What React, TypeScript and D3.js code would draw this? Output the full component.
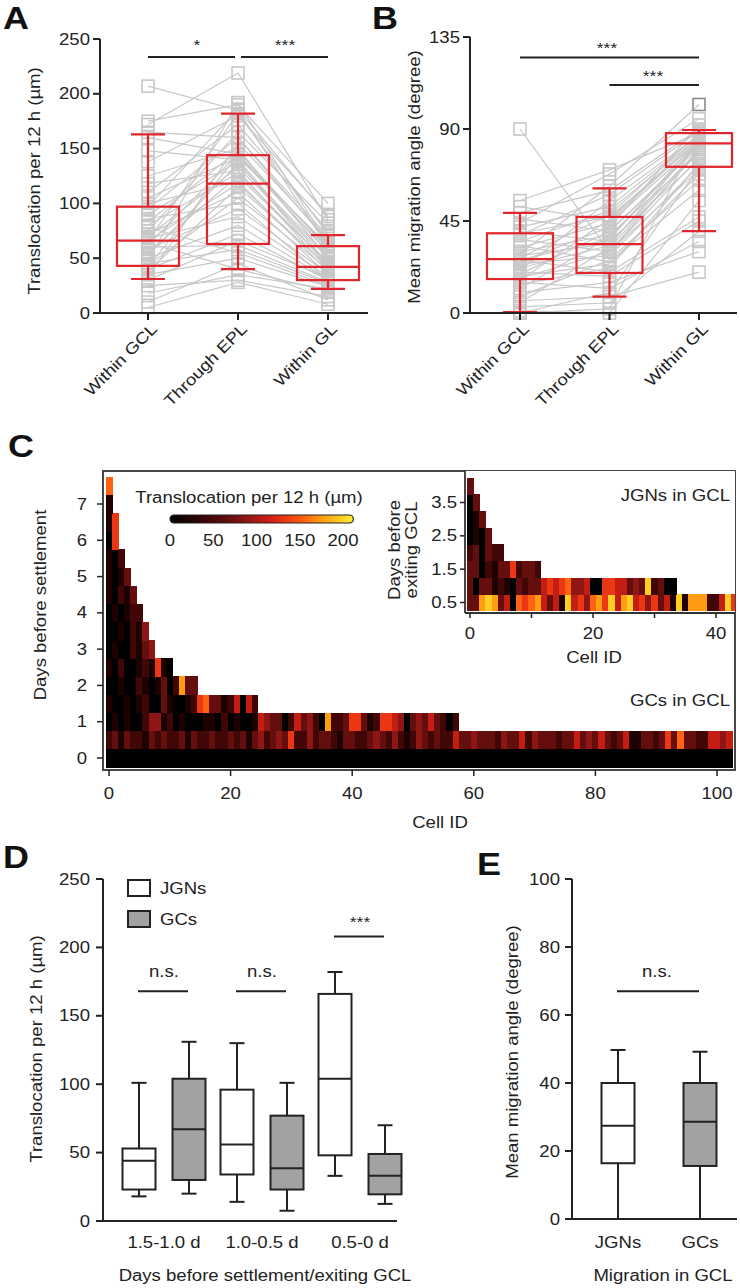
import React from "react";
import * as d3 from "d3";

const FONT = '"Liberation Sans", Arial, Helvetica, sans-serif';
const SX = 1.16;
const INK = "#222";
const RED = "#e0262c";
const PT = "#c8c8c8";
const BOXGRAY = "#a2a2a2";

// ---------------- Panel A ----------------
const stages = ["Within GCL", "Through EPL", "Within GL"];
const aTicks = [0, 50, 100, 150, 200, 250];
// [whisker low, Q1, median, Q3, whisker high]
const aBoxGCL = [31, 43, 66, 97, 163];
const aBoxEPL = [40, 63, 118, 144, 182];
const aBoxGL = [22, 30, 42, 61, 71];
const aGCL = [207,172,175,165,160,148,138,125,118,110,105,100,97,95,90,86,83,80,78,75,72,70,68,66,66,64,62,60,58,55,53,50,48,45,43,42,40,38,35,32,30,25,18,10,5];
const aEPL = [185,219,190,160,145,140,180,150,130,172,142,120,186,160,138,100,148,128,55,165,110,133,88,182,118,40,145,62,95,125,136,80,192,58,105,144,72,115,50,155,66,30,35,45,28];
const aGL = [60,85,100,70,55,45,90,50,40,75,62,38,88,65,42,30,58,45,25,82,35,50,33,72,42,20,60,28,36,46,52,31,63,27,40,56,30,43,24,68,32,15,22,12,8];

// ---------------- Panel B ----------------
const bTicks = [0, 45, 90, 135];
const bBoxGCL = [0.5, 16.6, 26.4, 39, 49];
const bBoxEPL = [8, 19.6, 33.7, 47, 61];
const bBoxGL = [40, 71.5, 83, 88, 89.5];
const bGCL = [90,55,52,49,46,44,42,40,39,38,36,35,33,32,30,29,28,27,26,26,25,24,22,21,20,19,18,17,16,15,14,12,10,8,6,5,3,1,0,0];
const bEPL = [30,70,45,60,40,68,52,35,47,58,30,50,25,44,38,62,34,48,20,36,42,28,33,55,18,40,24,30,46,12,22,37,15,26,8,32,5,0,10,2];
const bGL = [80,88,85,90,82,95,87,75,84,89,70,86,60,83,78,102,80,88,47,85,92,72,84,87,45,81,68,76,86,35,73,83,30,65,20,79,40,55,71,88];

// ---------------- Panel C (heat maps) ----------------
// one character per cell, level 0..9 ; translocation = level * 22 µm
const LEVEL_STEP = 22;
const gcDay0_0 = "0000000000" + "0000000000" + "0000000000" + "0000000000" + "0000000000" + "0000000000" + "0000000000" + "0000000000" + "0000000000" + "0000000000" + "000";
const gcDay0_5 = "23132" + "21323" + "22313" + "22322" + "32313" + "42343" + "62242" + "33213" + "32234" + "32421" + "24323" + "225" + "33433" + "32433" + "52433" + "32335" + "34353" + "23511" + "33236" + "37332" + "25545";
const gcDay1_0 = "01010" + "02441" + "20100" + "01102" + "01001" + "54330" + "25342" + "08223" + "66312" + "66540" + "34353" + "202";
const gcDay1_5 = "10010" + "12003" + "10012" + "67331" + "25052";
const gcDay2_0 = "00100" + "21013" + "02833";
const gcDay2_5 = "10200121610";
const gcDay3_0 = "01002134";
const gcDay3_5 = "0010214";
const gcDay4_0 = "010122";
const gcDay4_5 = "10213";
const gcDay5_0 = "1013";
const gcDay5_5 = "102";
const gcDay6_0 = "06";
const gcDay6_5 = "16";
const gcDay7_0 = "1";
const gcDay7_5 = "7";
const gcRows = [gcDay0_0, gcDay0_5, gcDay1_0, gcDay1_5, gcDay2_0, gcDay2_5, gcDay3_0, gcDay3_5, gcDay4_0, gcDay4_5, gcDay5_0, gcDay5_5, gcDay6_0, gcDay6_5, gcDay7_0, gcDay7_5];
const gcRowDays = [0, 0.5, 1, 1.5, 2, 2.5, 3, 3.5, 4, 4.5, 5, 5.5, 6, 6.5, 7, 7.5];

const jgnDay0_5 = "33898" + "35076" + "78535" + "19564" + "78695" + "89564" + "63519" + "18882" + "2596";
const jgnDay1_0 = "30331" + "21032" + "33565" + "67445" + "00665" + "53439" + "2300";
const jgnDay1_5 = "330213362332";
const jgnDay2_0 = "230322";
const jgnDay2_5 = "0103";
const jgnDay3_0 = "013";
const jgnDay3_5 = "03";
const jgnDay4_0 = "3";
const jgnRows = [jgnDay0_5, jgnDay1_0, jgnDay1_5, jgnDay2_0, jgnDay2_5, jgnDay3_0, jgnDay3_5, jgnDay4_0];
const jgnRowDays = [0.5, 1, 1.5, 2, 2.5, 3, 3.5, 4];

const cYTicks = [0, 1, 2, 3, 4, 5, 6, 7];
const cXTicks = [0, 20, 40, 60, 80, 100];
const insetYTicks = [0.5, 1.5, 2.5, 3.5];
const insetXTicks = [0, 10, 20, 30, 40];
const insetXLabels = [0, 20, 40];
const cbarTicks = [0, 50, 100, 150, 200];

// ---------------- Panel D ----------------
const dGroups = ["1.5-1.0 d", "1.0-0.5 d", "0.5-0 d"];
const dTicks = [0, 50, 100, 150, 200, 250];
const dJGN = [[18, 23, 44, 53, 101], [14, 34, 56, 96, 130], [33, 48, 104, 166, 182]];
const dGC = [[20, 30, 67, 104, 131], [7.5, 23, 38.5, 77, 101], [12.5, 19.5, 33, 49, 70]];
const dSig = [{ g: 0, v: 168, label: "n.s." }, { g: 1, v: 168, label: "n.s." }, { g: 2, v: 208, label: "***" }];

// ---------------- Panel E ----------------
const eCats = ["JGNs", "GCs"];
const eTicks = [0, 20, 40, 60, 80, 100];
const eBoxes = [[0, 16.4, 27.4, 40, 49.7], [0, 15.6, 28.6, 40, 49.2]];
const eSig = 67;

const heat = d3
  .scaleLinear<string>()
  .domain([0, 22, 50, 80, 115, 145, 175, 212])
  .range(["#000000", "#1e0202", "#4a0808", "#7a1414", "#d01e14", "#ff4a12", "#ff9a10", "#ffee30"])
  .clamp(true);

function Txt(p: any) {
  const { x, y, children, size = 16, anchor = "start", rot = 0, weight = 400, fill = INK, mid = false, sx = SX } = p;
  return (
    <text
      transform={`translate(${x},${y}) rotate(${rot}) scale(${sx},1)`}
      textAnchor={anchor}
      fontSize={size}
      fontWeight={weight}
      fontFamily={FONT}
      fill={fill}
      dy={mid ? "0.35em" : undefined}
    >
      {children}
    </text>
  );
}

function Box({ cx, w, s, y, stroke, fill = "none", capW, sw = 2 }: any) {
  const [lo, q1, md, q3, hi] = s;
  return (
    <g stroke={stroke} strokeWidth={sw} fill="none">
      <line x1={cx} x2={cx} y1={y(hi)} y2={y(q3)} />
      <line x1={cx} x2={cx} y1={y(q1)} y2={y(lo)} />
      <line x1={cx - capW / 2} x2={cx + capW / 2} y1={y(hi)} y2={y(hi)} />
      <line x1={cx - capW / 2} x2={cx + capW / 2} y1={y(lo)} y2={y(lo)} />
      <rect x={cx - w / 2} y={y(q3)} width={w} height={y(q1) - y(q3)} fill={fill} />
      <line x1={cx - w / 2} x2={cx + w / 2} y1={y(md)} y2={y(md)} />
    </g>
  );
}

function YAxis({ x, y, ticks, y0, y1, labelX }: any) {
  return (
    <g>
      <line x1={x} x2={x} y1={y0} y2={y1} stroke={INK} strokeWidth={2} />
      {ticks.map((t: number) => (
        <g key={t}>
          <line x1={x - 7} x2={x} y1={y(t)} y2={y(t)} stroke={INK} strokeWidth={2} />
          <Txt x={labelX} y={y(t)} anchor="end" mid>
            {t}
          </Txt>
        </g>
      ))}
    </g>
  );
}

function PairedPanel({ yScale, xScale, ticks, boxes, v1, v2, v3, axisX, axisEnd, boxW, darkMax }: any) {
  const xs = stages.map((s) => xScale(s) as number);
  const line = d3.line<[number, number]>();
  const vals = [v1, v2, v3];
  const pts: { x: number; v: number }[] = [];
  vals.forEach((arr: number[], k: number) => arr.forEach((v) => pts.push({ x: xs[k], v })));
  return (
    <g>
      <g stroke={PT} strokeWidth={1.2} fill="none">
        {v1.map((_: number, i: number) => (
          <path key={i} d={line([[xs[0], yScale(v1[i])], [xs[1], yScale(v2[i])], [xs[2], yScale(v3[i])]]) as string} />
        ))}
      </g>
      <g fill="none" strokeWidth={1.6}>
        {pts.map((p, i) => (
          <rect key={i} x={p.x - 6} y={yScale(p.v) - 6} width={12} height={12} stroke={darkMax && p.v === darkMax ? "#8a8a8a" : PT} />
        ))}
      </g>
      {boxes.map((b: number[], k: number) => (
        <Box key={k} cx={xs[k]} w={boxW} s={b} y={yScale} stroke={RED} capW={34} sw={2.2} />
      ))}
      <YAxis x={axisX} y={yScale} ticks={ticks} y0={yScale(ticks[ticks.length - 1])} y1={yScale(0)} labelX={axisX - 10} />
      <line x1={axisX} x2={axisEnd} y1={yScale(0)} y2={yScale(0)} stroke={INK} strokeWidth={2} />
      {xs.map((x, k) => (
        <g key={k}>
          <line x1={x} x2={x} y1={yScale(0)} y2={yScale(0) + 7} stroke={INK} strokeWidth={2} />
          <Txt x={x + 10} y={yScale(0) + 17} anchor="end" rot={-45}>
            {stages[k]}
          </Txt>
        </g>
      ))}
    </g>
  );
}

function HeatRows({ rows, days, x, y }: any) {
  const out: any[] = [];
  rows.forEach((row: string, r: number) => {
    const d = days[r];
    row.split("").forEach((ch, i) => {
      const x0 = x(i - 0.5);
      const x1 = x(i + 0.5);
      const y0 = y(d + 0.25);
      const y1 = y(d - 0.25);
      out.push(
        <rect key={r + "-" + i} x={x0} y={y0} width={x1 - x0 + 0.5} height={y1 - y0 + 0.5} fill={heat(+ch * LEVEL_STEP)} />
      );
    });
  });
  return <g shapeRendering="crispEdges">{out}</g>;
}

export default function App() {
  // A
  const aY = d3.scaleLinear().domain([0, 250]).range([313, 39]);
  const aX = d3.scalePoint<string>().domain(stages).range([148, 328]);
  // B
  const bY = d3.scaleLinear().domain([0, 135]).range([313, 37]);
  const bX = d3.scalePoint<string>().domain(stages).range([520, 699]);
  // C
  const cX = d3.scaleLinear().domain([0, 100]).range([109, 717]);
  const cY = d3.scaleLinear().domain([0, 7]).range([758, 504]);
  const frame = { x0: 103, y0: 471, x1: 735, y1: 770 };
  const jX = d3.scaleLinear().domain([0, 40]).range([470, 716]);
  const jY = d3.scaleLinear().domain([0.5, 3.5]).range([602.5, 502.5]);
  const inset = { x0: 465, y0: 471, x1: 735, y1: 613 };
  const cb = d3.scaleLinear().domain([0, 200]).range([170, 343]);
  const gradStops = d3.range(0, 1.0001, 0.05).map((t) => ({ t, c: heat(t * 212) }));
  // D
  const dY = d3.scaleLinear().domain([0, 250]).range([1221, 879]);
  const dX = d3.scalePoint<string>().domain(dGroups).range([164, 360]);
  // E
  const eY = d3.scaleLinear().domain([0, 100]).range([1219, 879]);
  const eX = d3.scalePoint<string>().domain(eCats).range([618, 700]);

  return (
    <svg width={740} height={1288} style={{ position: "absolute", left: 0, top: 0, background: "#fff" }} fontFamily={FONT}>
      <defs>
        <clipPath id="mainClip">
          <rect x={frame.x0} y={frame.y0} width={frame.x1 - frame.x0} height={frame.y1 - frame.y0} />
        </clipPath>
        <clipPath id="insetClip">
          <rect x={inset.x0} y={inset.y0} width={inset.x1 - inset.x0} height={inset.y1 - inset.y0} />
        </clipPath>
        <linearGradient id="cbGrad" x1="0" x2="1" y1="0" y2="0">
          {gradStops.map((s, i) => (
            <stop key={i} offset={s.t} stopColor={s.c} />
          ))}
        </linearGradient>
      </defs>
      <rect x={0} y={0} width={740} height={1288} fill="#fff" />

      {/* Panel letters */}
      <Txt x={3} y={29} size={31} weight={700} fill="#111">A</Txt>
      <Txt x={372} y={28.5} size={31} weight={700} fill="#111">B</Txt>
      <Txt x={8} y={457} size={31} weight={700} fill="#111">C</Txt>
      <Txt x={3} y={868} size={31} weight={700} fill="#111">D</Txt>
      <Txt x={477} y={875} size={31} weight={700} fill="#111">E</Txt>

      {/* ---------- A ---------- */}
      <PairedPanel yScale={aY} xScale={aX} ticks={aTicks} boxes={[aBoxGCL, aBoxEPL, aBoxGL]} v1={aGCL} v2={aEPL} v3={aGL} axisX={100} axisEnd={368} boxW={62} />
      <Txt x={40} y={181} anchor="middle" rot={-90}>Translocation per 12 h (µm)</Txt>
      <g stroke={INK} strokeWidth={2}>
        <line x1={aX(stages[0])} x2={235} y1={aY(233.5)} y2={aY(233.5)} />
        <line x1={241} x2={aX(stages[2])} y1={aY(233.5)} y2={aY(233.5)} />
      </g>
      <Txt x={197} y={50} anchor="middle" size={15}>*</Txt>
      <Txt x={285} y={50} anchor="middle" size={15}>***</Txt>

      {/* ---------- B ---------- */}
      <PairedPanel yScale={bY} xScale={bX} ticks={bTicks} boxes={[bBoxGCL, bBoxEPL, bBoxGL]} v1={bGCL} v2={bEPL} v3={bGL} axisX={470} axisEnd={737} boxW={66} darkMax={102} />
      <Txt x={420} y={177} anchor="middle" rot={-90}>Mean migration angle (degree)</Txt>
      <g stroke={INK} strokeWidth={2}>
        <line x1={bX(stages[0])} x2={bX(stages[2])} y1={bY(125)} y2={bY(125)} />
        <line x1={bX(stages[1])} x2={bX(stages[2])} y1={bY(111.5)} y2={bY(111.5)} />
      </g>
      <Txt x={607} y={53} anchor="middle" size={15}>***</Txt>
      <Txt x={653} y={81} anchor="middle" size={15}>***</Txt>

      {/* ---------- C main ---------- */}
      <g clipPath="url(#mainClip)">
        <HeatRows rows={gcRows} days={gcRowDays} x={cX} y={cY} />
      </g>
      <rect x={frame.x0} y={frame.y0} width={frame.x1 - frame.x0} height={frame.y1 - frame.y0} fill="none" stroke="#333" strokeWidth={1.8} />
      {cYTicks.map((t) => (
        <g key={t}>
          <line x1={frame.x0 - 6} x2={frame.x0} y1={cY(t)} y2={cY(t)} stroke={INK} strokeWidth={1.5} />
          <Txt x={87} y={cY(t)} anchor="end" mid>{t}</Txt>
        </g>
      ))}
      {cXTicks.map((t) => (
        <g key={t}>
          <line x1={cX(t)} x2={cX(t)} y1={frame.y1} y2={frame.y1 + 6} stroke={INK} strokeWidth={1.5} />
          <Txt x={cX(t)} y={793} anchor="middle" mid>{t}</Txt>
        </g>
      ))}
      <Txt x={440} y={822} anchor="middle" mid>Cell ID</Txt>
      <Txt x={46} y={605} anchor="middle" rot={-90}>Days before settlement</Txt>
      <Txt x={730} y={700} anchor="end" mid>GCs in GCL</Txt>

      {/* colour bar */}
      <Txt x={249} y={497} anchor="middle" mid>Translocation per 12 h (µm)</Txt>
      <rect x={cb(0)} y={515} width={cb(212) - cb(0)} height={8} rx={4} fill="url(#cbGrad)" stroke="#222" strokeWidth={1.2} />
      {cbarTicks.map((t) => (
        <Txt key={t} x={cb(t)} y={540} anchor="middle" mid>{t}</Txt>
      ))}

      {/* ---------- C inset ---------- */}
      <rect x={inset.x0} y={inset.y0} width={inset.x1 - inset.x0} height={inset.y1 - inset.y0} fill="#fff" />
      <g clipPath="url(#insetClip)">
        <HeatRows rows={jgnRows} days={jgnRowDays} x={jX} y={jY} />
      </g>
      <line x1={inset.x0} x2={inset.x0} y1={inset.y0} y2={inset.y1} stroke="#333" strokeWidth={1.8} />
      <line x1={inset.x0} x2={inset.x1} y1={inset.y1} y2={inset.y1} stroke="#333" strokeWidth={1.8} />
      {insetYTicks.map((t) => (
        <g key={t}>
          <line x1={inset.x0 - 5} x2={inset.x0} y1={jY(t)} y2={jY(t)} stroke={INK} strokeWidth={1.5} />
          <Txt x={457} y={jY(t)} anchor="end" mid>{t}</Txt>
        </g>
      ))}
      {insetXTicks.map((t) => (
        <line key={t} x1={jX(t)} x2={jX(t)} y1={inset.y1} y2={inset.y1 + 5} stroke={INK} strokeWidth={1.5} />
      ))}
      {insetXLabels.map((t) => (
        <Txt key={t} x={jX(t)} y={633} anchor="middle" mid>{t}</Txt>
      ))}
      <Txt x={594} y={657} anchor="middle" mid>Cell ID</Txt>
      <Txt x={400} y={550} anchor="middle" rot={-90}>Days before</Txt>
      <Txt x={417} y={550} anchor="middle" rot={-90}>exiting GCL</Txt>
      <Txt x={730} y={495} anchor="end" mid>JGNs in GCL</Txt>

      {/* ---------- D ---------- */}
      {dGroups.map((g, k) => (
        <g key={g}>
          <Box cx={(dX(g) as number) - 25} w={33} s={dJGN[k]} y={dY} stroke={INK} fill="#fff" capW={15} />
          <Box cx={(dX(g) as number) + 25} w={33} s={dGC[k]} y={dY} stroke={INK} fill={BOXGRAY} capW={15} />
          <Txt x={dX(g)} y={1242} anchor="middle" mid>{g}</Txt>
        </g>
      ))}
      {dSig.map((s, i) => {
        const c = dX(dGroups[s.g]) as number;
        return (
          <g key={i}>
            <line x1={c - 26} x2={c + 24} y1={dY(s.v)} y2={dY(s.v)} stroke={INK} strokeWidth={2} />
            <Txt x={c} y={dY(s.v) - (s.label === "***" ? 9 : 14)} anchor="middle" size={s.label === "***" ? 15 : 16}>{s.label}</Txt>
          </g>
        );
      })}
      <YAxis x={103} y={dY} ticks={dTicks} y0={dY(250)} y1={dY(0)} labelX={90} />
      <line x1={97} x2={397} y1={dY(0)} y2={dY(0)} stroke={INK} strokeWidth={2} />
      <Txt x={42} y={1049} anchor="middle" rot={-90}>Translocation per 12 h (µm)</Txt>
      <Txt x={265} y={1275} anchor="middle" mid>Days before settlement/exiting GCL</Txt>
      <rect x={128} y={880} width={22} height={16} fill="#fff" stroke={INK} strokeWidth={2} />
      <Txt x={160} y={888} mid>JGNs</Txt>
      <rect x={128} y={911} width={22} height={16} fill={BOXGRAY} stroke={INK} strokeWidth={2} />
      <Txt x={160} y={919} mid>GCs</Txt>

      {/* ---------- E ---------- */}
      {eCats.map((c, k) => (
        <g key={c}>
          <Box cx={eX(c)} w={33} s={eBoxes[k]} y={eY} stroke={INK} fill={k === 0 ? "#fff" : BOXGRAY} capW={15} />
          <Txt x={eX(c)} y={1242} anchor="middle" mid>{c}</Txt>
        </g>
      ))}
      <line x1={617} x2={699} y1={eY(eSig)} y2={eY(eSig)} stroke={INK} strokeWidth={2} />
      <Txt x={657} y={eY(eSig) - 14} anchor="middle">n.s.</Txt>
      <YAxis x={572} y={eY} ticks={eTicks} y0={eY(100)} y1={eY(0)} labelX={560} />
      <line x1={566} x2={737} y1={eY(0)} y2={eY(0)} stroke={INK} strokeWidth={2} />
      <Txt x={518} y={1052} anchor="middle" rot={-90}>Mean migration angle (degree)</Txt>
      <Txt x={663} y={1275} anchor="middle" mid>Migration in GCL</Txt>
    </svg>
  );
}
